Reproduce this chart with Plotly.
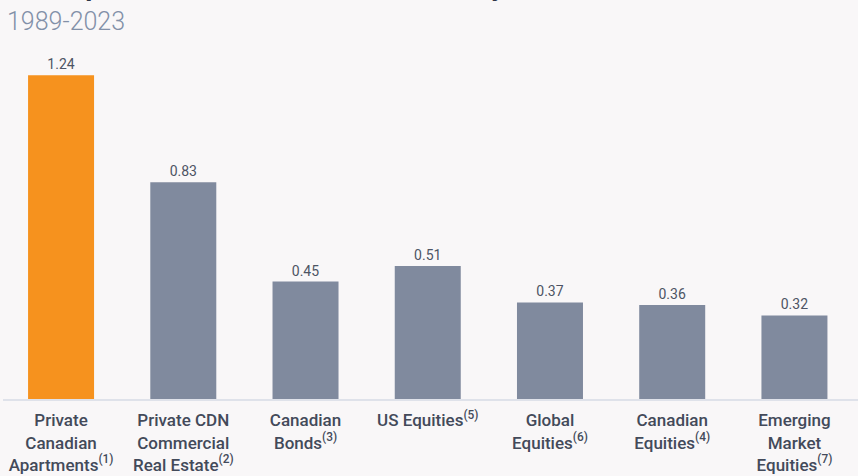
import plotly.graph_objects as go

categories = [
    'Private<br>Canadian<br>Apartments<sup>(1)</sup>',
    'Private CDN<br>Commercial<br>Real Estate<sup>(2)</sup>',
    'Canadian<br>Bonds<sup>(3)</sup>',
    'US Equities<sup>(5)</sup>',
    'Global<br>Equities<sup>(6)</sup>',
    'Canadian<br>Equities<sup>(4)</sup>',
    'Emerging<br>Market<br>Equities<sup>(7)</sup>',
]
sharpe = [1.24, 0.83, 0.45, 0.51, 0.37, 0.36, 0.32]
labels = ['1.24', '0.83', '0.45', '0.51', '0.37', '0.36', '0.32']
title = 'Sharpe Ratio Across Asset Classes by Year'
subtitle = '1989-2023'

ORANGE = '#F6921E'
GREY = '#808A9E'
BG = '#F9F7F8'
TEXT = '#434A5A'

colors = [ORANGE] + [GREY] * (len(sharpe) - 1)

fig = go.Figure(go.Bar(
    x = list(range(len(sharpe))),
    y = sharpe,
    marker = {'color': colors, 'line': {'width': 0}},
    width = 0.54,
    text = labels,
    textposition = 'outside',
    textfont = {'family': 'Roboto', 'size': 14, 'color': '#4D5464'},
    cliponaxis = False,
))

fig.add_annotation( # title, mostly cut off above the canvas
    text = '<b>' + title + '</b>',
    xref = 'paper', yref = 'paper',
    x = 0.026, y = 1.100,
    xanchor = 'left', yanchor = 'bottom',
    showarrow = False,
    font = {'family': 'Roboto', 'size': 28, 'color': '#2E3648'},
)
fig.add_annotation(
    text = subtitle,
    xref = 'paper', yref = 'paper',
    x = 0.002, y = 1.052,
    xanchor = 'left', yanchor = 'middle',
    showarrow = False,
    font = {'family': 'Roboto', 'size': 25, 'color': '#8290A8', 'weight': 300},
)

fig.update_layout(
    width = 858, height = 476,
    margin = {'l': 3, 'r': 0, 't': 40, 'b': 77},
    paper_bgcolor = BG, plot_bgcolor = BG,
    showlegend = False,
    xaxis = {
        'range': [-0.475, 6.52],
        'tickmode': 'array',
        'tickvals': list(range(len(categories))),
        'ticktext': categories,
        'tickfont': {'family': 'Roboto', 'size': 17, 'color': TEXT, 'weight': 500},
        'showline': True, 'linecolor': '#DFE2EA', 'linewidth': 2,
        'showgrid': False, 'zeroline': False, 'ticks': '',
        'tickangle': 0, 'automargin': False,
        'ticklabelstandoff': 5,
    },
    yaxis = {
        'range': [0, 1.3755],
        'visible': False,
        'showgrid': False,
        'automargin': False,
    },
)

fig.write_html(
    'out.html',
    config = {'displayModeBar': False},
    post_script = "document.body.style.margin = '0';",
)
